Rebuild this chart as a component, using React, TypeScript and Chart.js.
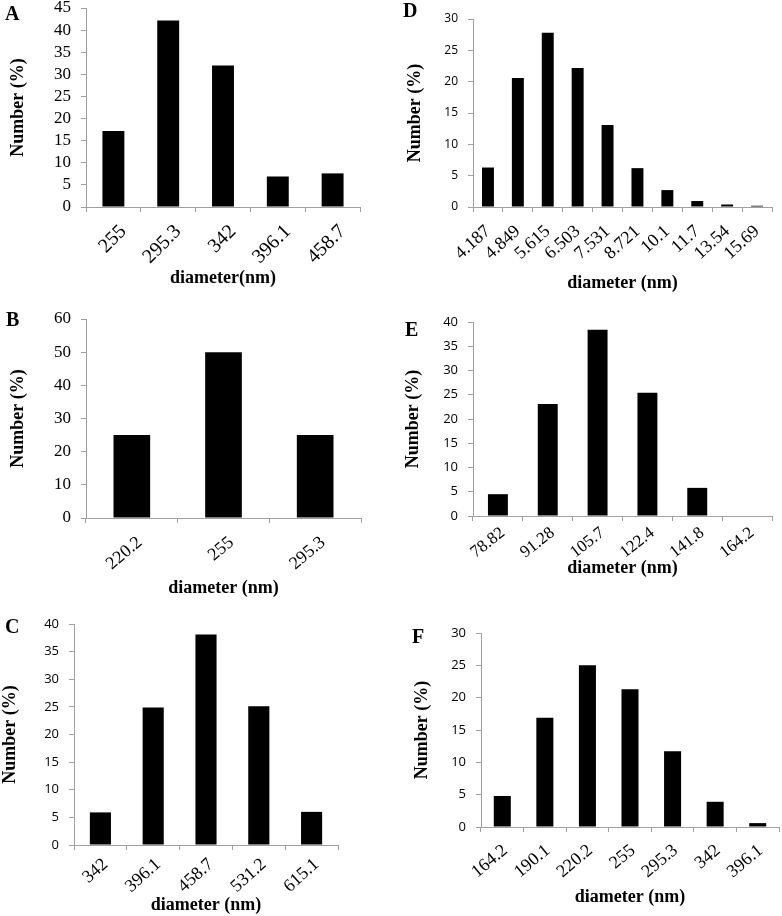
import React, { useEffect, useRef } from "react";
import { Chart, registerables } from "chart.js";

Chart.register(...registerables);

// ---------- DATA ----------
const aLabels = ["255", "295.3", "342", "396.1", "458.7"];
const aValues = [17.2, 42.2, 32.0, 6.9, 7.6];

const dLabels = ["4.187", "4.849", "5.615", "6.503", "7.531", "8.721", "10.1", "11.7", "13.54", "15.69"];
const dValues = [6.3, 20.6, 27.8, 22.2, 13.1, 6.2, 2.7, 0.95, 0.4, 0.2];

const bLabels = ["220.2", "255", "295.3"];
const bValues = [25, 50, 25];

const eLabels = ["78.82", "91.28", "105.7", "122.4", "141.8", "164.2"];
const eValues = [4.5, 23.1, 38.4, 25.4, 5.8, 0.1];

const cLabels = ["342", "396.1", "458.7", "531.2", "615.1"];
const cValues = [5.9, 24.9, 38.1, 25.1, 6.0];

const fLabels = ["164.2", "190.1", "220.2", "255", "295.3", "342", "396.1"];
const fValues = [4.8, 16.9, 25.0, 21.3, 11.7, 3.9, 0.6];

const yTitle = "Number (%)";
const xTitleA = "diameter(nm)";
const xTitle = "diameter (nm)";

// ---------- LAYOUT / STYLE ----------
const SERIF = "'Liberation Serif', 'Times New Roman', serif";
const SANS = "'Open Sans', 'Liberation Sans', sans-serif";
const AXIS = "#a0a0a0";
const TOPPAD = 25;

type Panel = {
  letter: string;
  labels: string[];
  values: number[];
  xTitle: string;
  yMax: number;
  yStep: number;
  yFont: { family: string; size: number };
  xFontSize: number;
  rot: number;
  plot: { l: number; t: number; r: number; b: number };
  canvas: { l: number; r: number; b: number };
  yTitleX: number;
  xTitleY: number;
  letterPos: { x: number; y: number };
  xPad: number;
  xOff: number;
};

const panels: Panel[] = [
  {
    letter: "A", labels: aLabels, values: aValues, xTitle: xTitleA, yMax: 45, yStep: 5,
    yFont: { family: SERIF, size: 17 }, xFontSize: 20, rot: 45,
    plot: { l: 86, t: 8, r: 360, b: 207 }, canvas: { l: 0, r: 390, b: 300 },
    yTitleX: 18, xTitleY: 278, letterPos: { x: 5, y: 3 }, xPad: 8, xOff: 10,
  },
  {
    letter: "D", labels: dLabels, values: dValues, xTitle: xTitle, yMax: 30, yStep: 5,
    yFont: { family: SANS, size: 12 }, xFontSize: 18, rot: 42,
    plot: { l: 473, t: 19, r: 772, b: 207 }, canvas: { l: 391, r: 802, b: 300 },
    yTitleX: 415, xTitleY: 283, letterPos: { x: 403, y: 0 }, xPad: 9, xOff: 0,
  },
  {
    letter: "B", labels: bLabels, values: bValues, xTitle: xTitle, yMax: 60, yStep: 10,
    yFont: { family: SERIF, size: 17 }, xFontSize: 18, rot: 40,
    plot: { l: 86, t: 319, r: 361, b: 518 }, canvas: { l: 0, r: 390, b: 610 },
    yTitleX: 18, xTitleY: 588, letterPos: { x: 6, y: 309 }, xPad: 9, xOff: 8,
  },
  {
    letter: "E", labels: eLabels, values: eValues, xTitle: xTitle, yMax: 40, yStep: 5,
    yFont: { family: SANS, size: 13 }, xFontSize: 17, rot: 38,
    plot: { l: 473, t: 322, r: 772, b: 516 }, canvas: { l: 391, r: 802, b: 600 },
    yTitleX: 413, xTitleY: 568, letterPos: { x: 405, y: 319 }, xPad: 2, xOff: 5,
  },
  {
    letter: "C", labels: cLabels, values: cValues, xTitle: xTitle, yMax: 40, yStep: 5,
    yFont: { family: SANS, size: 13 }, xFontSize: 18, rot: 42,
    plot: { l: 74, t: 624, r: 338, b: 845 }, canvas: { l: 0, r: 390, b: 916 },
    yTitleX: 10, xTitleY: 905, letterPos: { x: 5, y: 616 }, xPad: 4, xOff: 5,
  },
  {
    letter: "F", labels: fLabels, values: fValues, xTitle: xTitle, yMax: 30, yStep: 5,
    yFont: { family: SANS, size: 13 }, xFontSize: 18, rot: 40,
    plot: { l: 481, t: 633, r: 779, b: 827 }, canvas: { l: 391, r: 809, b: 916 },
    yTitleX: 422, xTitleY: 897, letterPos: { x: 412, y: 626 }, xPad: 8, xOff: 3,
  },
];

function BarPanel({ p }: { p: Panel }) {
  const ref = useRef<HTMLCanvasElement | null>(null);
  const ct = p.plot.t - TOPPAD;
  const w = p.canvas.r - p.canvas.l;
  const h = p.canvas.b - ct;

  useEffect(() => {
    if (!ref.current) return;
    const titleFont = { family: SERIF, size: 18, weight: "bold" as const, lineHeight: 1 };
    const chart = new Chart(ref.current, {
      type: "bar",
      data: {
        labels: p.labels,
        datasets: [
          {
            data: p.values,
            backgroundColor: "#000000",
            borderWidth: 0,
            barPercentage: 0.4,
            categoryPercentage: 1.0,
          },
        ],
      },
      options: {
        animation: false,
        responsive: false,
        maintainAspectRatio: false,
        devicePixelRatio: 1,
        layout: {
          padding: { left: 0, top: TOPPAD, right: p.canvas.r - p.plot.r, bottom: 0 },
        },
        plugins: {
          legend: { display: false },
          tooltip: { enabled: false },
        },
        scales: {
          x: {
            type: "category",
            offset: true,
            grid: {
              offset: true,
              drawOnChartArea: false,
              drawTicks: true,
              tickLength: 5,
              color: AXIS,
              lineWidth: 1,
            },
            border: { display: true, color: AXIS, width: 1 },
            ticks: {
              autoSkip: false,
              maxRotation: p.rot,
              minRotation: p.rot,
              padding: p.xPad,
              labelOffset: p.xOff,
              color: "#000",
              font: { family: SERIF, size: p.xFontSize },
            },
            title: {
              display: true,
              text: p.xTitle,
              color: "#000",
              font: titleFont,
              padding: { top: 0, bottom: Math.max(0, p.canvas.b - p.xTitleY - 9) },
            },
            afterFit: (s: any) => {
              s.height = p.canvas.b - p.plot.b;
            },
          },
          y: {
            min: 0,
            max: p.yMax,
            ticks: {
              stepSize: p.yStep,
              autoSkip: false,
              padding: 10,
              color: "#000",
              font: p.yFont,
            },
            grid: {
              drawOnChartArea: false,
              drawTicks: true,
              tickLength: 5,
              color: AXIS,
              lineWidth: 1,
            },
            border: { display: true, color: AXIS, width: 1 },
            title: {
              display: true,
              text: yTitle,
              color: "#000",
              font: titleFont,
              padding: { top: Math.max(0, p.yTitleX - p.canvas.l - 9), bottom: 0 },
            },
            afterFit: (s: any) => {
              s.width = p.plot.l - p.canvas.l;
            },
          },
        },
      } as any,
    });
    return () => chart.destroy();
  }, [p]);

  return (
    <>
      <canvas
        ref={ref}
        width={w}
        height={h}
        style={{ position: "absolute", left: p.canvas.l, top: ct, width: w, height: h }}
      />
      <div
        style={{
          position: "absolute",
          left: p.letterPos.x,
          top: p.letterPos.y,
          fontFamily: SERIF,
          fontWeight: "bold",
          fontSize: 20,
          lineHeight: "20px",
          color: "#000",
        }}
      >
        {p.letter}
      </div>
    </>
  );
}

export default function App() {
  return (
    <div
      style={{
        position: "absolute",
        left: 0,
        top: 0,
        width: 782,
        height: 916,
        overflow: "hidden",
        background: "#ffffff",
      }}
    >
      {panels.map((p) => (
        <BarPanel key={p.letter} p={p} />
      ))}
    </div>
  );
}
